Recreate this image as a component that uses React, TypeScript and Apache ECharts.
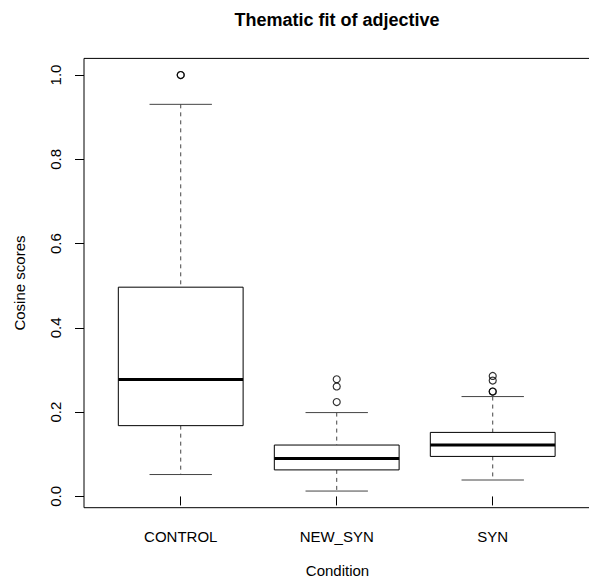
import React, { useEffect, useRef } from 'react';
import * as echarts from 'echarts';

const categories = ['CONTROL', 'NEW_SYN', 'SYN'];
const whiskerLow = [0.052, 0.0128, 0.039];
const lowerQuartile = [0.168, 0.063, 0.095];
const medians = [0.2775, 0.090, 0.122];
const upperQuartile = [0.4966, 0.122, 0.152];
const whiskerHigh = [0.9305, 0.199, 0.237];
const outliers = [
  [1.0, 1.0],
  [0.224, 0.261, 0.278],
  [0.249, 0.249, 0.275, 0.286],
];
const yTicks = [0, 0.2, 0.4, 0.6, 0.8, 1.0];
const xTicks = [1, 2, 3];

const FONT = '"Liberation Sans", Arial, Helvetica, sans-serif';

export default function App() {
  const ref = useRef<HTMLDivElement>(null);
  useEffect(() => {
    if (!ref.current) return;
    const chart = echarts.init(ref.current, undefined, { renderer: 'svg' });

    const boxData = categories.map((_, i) => [
      i + 1,
      whiskerLow[i],
      lowerQuartile[i],
      medians[i],
      upperQuartile[i],
      whiskerHigh[i],
    ]);
    const outlierData: number[][] = [];
    outliers.forEach((arr, i) => arr.forEach((v) => outlierData.push([i + 1, v])));

    const whiskerColor = '#444';

    chart.setOption({
      animation: false,
      backgroundColor: '#fff',
      grid: {
        left: 84,
        top: 58.4,
        width: 507,
        height: 449.3,
        outerBoundsMode: 'none',
        containLabel: false,
        show: true,
        borderColor: '#000',
        borderWidth: 1,
        backgroundColor: 'transparent',
      },
      graphic: [
        {
          type: 'text',
          x: 337,
          y: 20,
          style: {
            text: 'Thematic fit of adjective',
            font: `bold 18px ${FONT}`,
            align: 'center',
            verticalAlign: 'middle',
            fill: '#000',
          },
        },
      ],
      xAxis: {
        type: 'value',
        min: 0.38,
        max: 3.63,
        splitLine: { show: false },
        axisLine: { show: false },
        axisTick: {
          show: true,
          customValues: xTicks,
          length: 9,
          lineStyle: { color: '#000', width: 1 },
        },
        axisLabel: {
          customValues: xTicks,
          formatter: (v: number) => categories[Math.round(v) - 1] ?? '',
          fontSize: 15,
          fontFamily: FONT,
          color: '#000',
          margin: 21,
        },
        name: 'Condition',
        nameLocation: 'middle',
        nameGap: 55,
        nameTextStyle: { fontSize: 15, fontFamily: FONT, color: '#000' },
      },
      yAxis: {
        type: 'value',
        min: -0.0267,
        max: 1.0395,
        splitLine: { show: false },
        axisLine: { show: false },
        axisTick: {
          show: true,
          customValues: yTicks,
          length: 9,
          lineStyle: { color: '#000', width: 1 },
        },
        axisLabel: {
          customValues: yTicks,
          formatter: (v: number) => v.toFixed(1),
          rotate: 90,
          fontSize: 15,
          fontFamily: FONT,
          color: '#000',
          margin: 21,
        },
        name: 'Cosine scores',
        nameLocation: 'middle',
        nameGap: 57,
        nameTextStyle: { fontSize: 15, fontFamily: FONT, color: '#000' },
      },
      series: [
        {
          type: 'custom',
          data: boxData,
          renderItem: (params: any, api: any) => {
            const x = api.value(0);
            const lo = api.value(1);
            const q1 = api.value(2);
            const med = api.value(3);
            const q3 = api.value(4);
            const hi = api.value(5);
            const tl = api.coord([x - 0.4, q3]);
            const br = api.coord([x + 0.4, q1]);
            const c = api.coord([x, med]);
            const pHi = api.coord([x, hi]);
            const pLo = api.coord([x, lo]);
            const sL = api.coord([x - 0.2, hi]);
            const sR = api.coord([x + 0.2, hi]);
            const dash = { stroke: whiskerColor, lineWidth: 1, lineDash: [4, 4] };
            const solid = { stroke: whiskerColor, lineWidth: 1 };
            return {
              type: 'group',
              children: [
                { type: 'line', shape: { x1: pHi[0], y1: pHi[1], x2: pHi[0], y2: tl[1] }, style: dash },
                { type: 'line', shape: { x1: pLo[0], y1: br[1], x2: pLo[0], y2: pLo[1] }, style: dash },
                { type: 'line', shape: { x1: sL[0], y1: pHi[1], x2: sR[0], y2: pHi[1] }, style: solid },
                { type: 'line', shape: { x1: sL[0], y1: pLo[1], x2: sR[0], y2: pLo[1] }, style: solid },
                {
                  type: 'rect',
                  shape: { x: tl[0], y: tl[1], width: br[0] - tl[0], height: br[1] - tl[1] },
                  style: { fill: '#fff', stroke: '#000', lineWidth: 1 },
                },
                {
                  type: 'line',
                  shape: { x1: tl[0], y1: c[1], x2: br[0], y2: c[1] },
                  style: { stroke: '#000', lineWidth: 3 },
                },
              ],
            };
          },
        },
        {
          type: 'scatter',
          data: outlierData,
          symbol: 'circle',
          symbolSize: 7,
          itemStyle: { color: 'rgba(0,0,0,0)', borderColor: '#000', borderWidth: 1.2 },
        },
      ],
    });
    return () => chart.dispose();
  }, []);
  return (
    <div
      ref={ref}
      style={{ position: 'absolute', left: 0, top: 0, width: 589, height: 578 }}
    />
  );
}
